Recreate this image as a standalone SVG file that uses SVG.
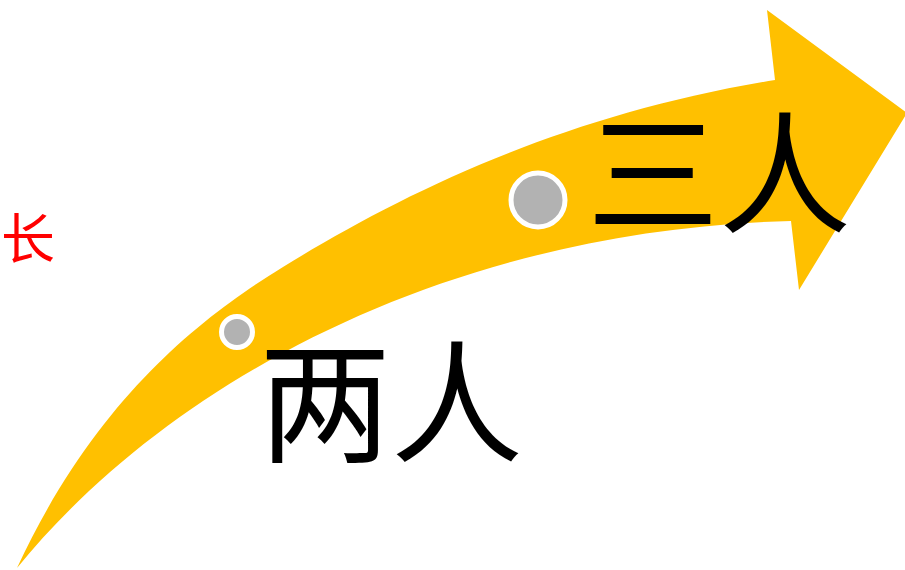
<svg xmlns="http://www.w3.org/2000/svg" width="905" height="570" viewBox="0 0 905 570">
<style>
.lbl{font-family:"Noto Sans CJK SC","Noto Sans CJK JP",sans-serif;fill:#000;font-size:132px}
.dot{fill:#B2B2B2;stroke:#FFFFFF;stroke-width:5}
.side{font-family:"Noto Sans CJK SC",serif;fill:#FF0000;font-size:54px}
</style>
<rect width="905" height="570" fill="#FFFFFF"/>
<g id="connectors">
<path id="arrow" fill="#FFC000" d="M17,568 C95,400 200,318 283,267 C400,195 560,115 775,80 L767,10 L907,113 L799,290 L791,221 C450,230 170,380 17,568 Z"/>
</g>
<g id="side-label"><text class="side" x="1" y="259">长</text></g>
<g id="node-two">
<circle class="dot" cx="237" cy="332" r="15.5"/>
<text class="lbl" x="259" y="452">两人</text>
</g>
<g id="node-three">
<circle class="dot" cx="538" cy="200" r="27"/>
<text class="lbl" x="587" y="223">三人</text>
</g>
</svg>
